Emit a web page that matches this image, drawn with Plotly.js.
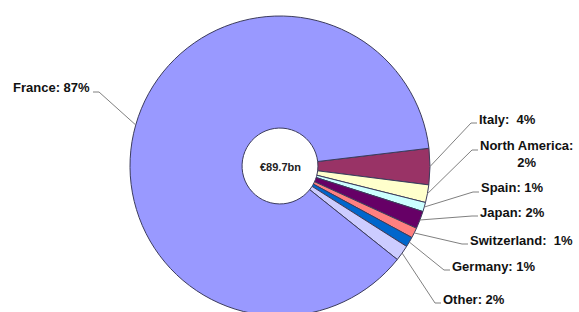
<!DOCTYPE html>
<html>
<head>
<meta charset="utf-8">
<script src="https://cdn.plot.ly/plotly-3.0.1.min.js"></script>
<style>
html,body{margin:0;padding:0;background:#fff;overflow:hidden;}
#chart{width:579px;height:316px;}
</style>
</head>
<body>
<div id="chart"></div>
<script>
// ---- data (drawing order, clockwise from Italy) ----
const categories = ['Italy', 'North America', 'Spain', 'Japan', 'Switzerland', 'Germany', 'Other', 'France'];
const values = [3.9, 1.9, 1.0, 1.9, 1.1, 1.1, 1.7, 87.4];
const labelTexts = ['Italy:\u00a0 4%', 'North America:<br>2%', 'Spain: 1%', 'Japan: 2%', 'Switzerland:\u00a0 1%', 'Germany: 1%', 'Other: 2%', 'France: 87%'];
const centerText = '€89.7bn';

// ---- styling / layout ----
const colors = ['#993366', '#FFFFCC', '#CCFFFF', '#660066', '#FF8080', '#0066CC', '#CCCCFF', '#9999FF'];
const W = 579, H = 316;
const pieLeft = 130, pieTop = 16, pieSize = 300;
const rotation = 83.2;
const holeFrac = 0.253;
// label anchor pixels: [x, y(center), side, leaderY]
const labelPos = [
  [479, 119, 'right', 123],
  [480, 154.5, 'right', 150],
  [481, 188, 'right', 192],
  [480, 212, 'right', 216],
  [470, 240, 'right', 244],
  [452, 266, 'right', 270],
  [443, 299, 'right', 303],
  [90, 88, 'left', 92]
];

const X = p => p / W;
const Y = p => 1 - p / H;

const cx = pieLeft + pieSize / 2, cy = pieTop + pieSize / 2, r = pieSize / 2;
const total = values.reduce((a, b) => a + b, 0);

const shapes = [], annotations = [];
let cum = 0;
values.forEach((v, i) => {
  const a0 = rotation + 360 * cum / total;
  const a1 = a0 + 360 * v / total;
  cum += v;
  const mid = (a0 + a1) / 2 * Math.PI / 180;
  const px = cx + r * Math.sin(mid), py = cy - r * Math.cos(mid);
  const [lx, ly, side, leadY] = labelPos[i];
  let sx, ex;
  if (side === 'right') { sx = lx - 2; ex = sx - 6; } else { sx = lx + 3; ex = sx + 6; }
  shapes.push({
    type: 'path', xref: 'paper', yref: 'paper',
    path: `M ${X(sx)},${Y(leadY)} L ${X(ex)},${Y(leadY)} L ${X(px)},${Y(py)}`,
    line: {color: '#808080', width: 1}
  });
  annotations.push({
    xref: 'paper', yref: 'paper', x: X(lx), y: Y(ly),
    xanchor: side === 'right' ? 'left' : 'right', yanchor: 'middle',
    text: '<b>' + labelTexts[i] + '</b>', showarrow: false, align: 'center',
    borderpad: 0, borderwidth: 0,
    font: {family: 'Liberation Sans, Arial, sans-serif', size: 13, color: '#111'}
  });
});
annotations.push({
  xref: 'paper', yref: 'paper', x: X(cx), y: Y(cy + 1), xanchor: 'center', yanchor: 'middle',
  text: '<b>' + centerText + '</b>', showarrow: false, borderpad: 0, borderwidth: 0,
  font: {family: 'Liberation Sans, Arial, sans-serif', size: 11, color: '#222'}
});

const trace = {
  type: 'pie',
  labels: categories,
  values: values,
  sort: false,
  direction: 'clockwise',
  rotation: rotation,
  hole: holeFrac,
  textinfo: 'none',
  hoverinfo: 'none',
  showlegend: false,
  marker: {colors: colors, line: {color: '#3c3c5c', width: 1}},
  domain: {x: [X(pieLeft), X(pieLeft + pieSize)], y: [Y(pieTop + pieSize), Y(pieTop)]}
};

Plotly.newPlot('chart', [trace], {
  width: W, height: H,
  margin: {l: 0, r: 0, t: 0, b: 0},
  paper_bgcolor: '#fff', plot_bgcolor: '#fff',
  shapes: shapes, annotations: annotations
}, {staticPlot: true, displayModeBar: false});
</script>
</body>
</html>
